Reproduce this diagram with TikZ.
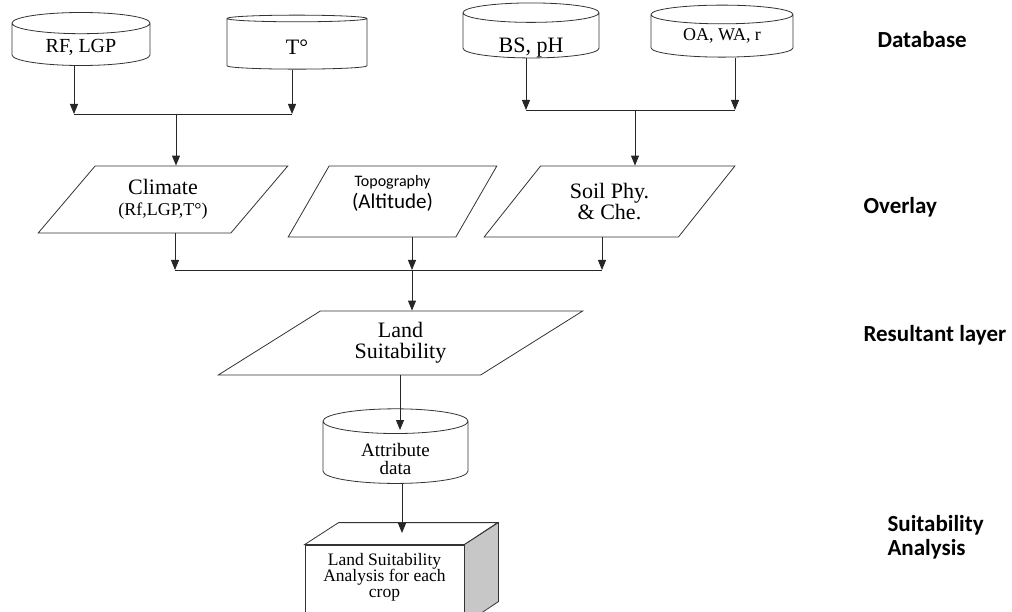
\documentclass[tikz,border=0pt]{standalone}
\usepackage{fontspec}
\setmainfont{Liberation Serif}
\newfontfamily\calib{Carlito}
\usetikzlibrary{shapes.geometric}
\usetikzlibrary{arrows.meta}
\newcommand{\shifttext}[2]{\raisebox{#1}[\height][\depth]{\begin{tabular}{@{}c@{}}#2\end{tabular}}}
\tikzset{
db/.style={ % database cylinders
cylinder, shape border rotate=90,
draw=black!80, line width=0.8pt, fill=white,
aspect=0.3, inner sep=0pt,
font=\fontsize{20}{20}\selectfont},
para/.style={ % overlay layers
trapezium, trapezium stretches=true,
draw=black!80, line width=0.8pt, inner sep=0pt,
align=center, font=\fontsize{22}{21}\selectfont},
cropbox/.style={ % front face of the box
rectangle, draw=black!80, line width=0.8pt, fill=white,
inner sep=0pt, font=\fontsize{17.5}{15.5}\selectfont},
boxface/.style={draw=black!80, line width=0.8pt},
levellabel/.style={anchor=west, align=left,
font=\calib\bfseries\fontsize{23}{24}\selectfont},
bus/.style={draw, line width=0.9pt, black!85},
every edge/.style={ % arrows between the layers
draw, -{Triangle[length=10pt,width=8pt]},
line width=0.9pt, black!85}}

\begin{document}
\begin{tikzpicture}[x=1pt,y=-1pt]
\useasboundingbox (0,0) rectangle (1012,612);
% database
\node[db, minimum width=138pt, minimum height=53pt] (rf) at (81,44.5) {\shifttext{-4pt}{RF, LGP}};
\node[db, minimum width=140pt, minimum height=54pt, font=\fontsize{22}{22}\selectfont] (temp) at (297,44) {\shifttext{-6pt}{T°}};
\node[db, minimum width=136pt, minimum height=55pt, font=\fontsize{22}{22}\selectfont] (bs) at (531,35.5) {\shifttext{-13pt}{BS, pH}};
\node[db, minimum width=142pt, minimum height=52pt, aspect=0.24, font=\fontsize{18}{18}\selectfont] (oa) at (722,36) {OA, WA, r};

% overlay
\node[para, trapezium left angle=47, trapezium right angle=133, minimum width=250pt, minimum height=67pt] (clim) at (163,199.5) {Climate\\{\fontsize{18}{18}\selectfont (Rf,LGP,T°)}};
\node[para, trapezium left angle=58.5, trapezium right angle=121.5, minimum width=209pt, minimum height=71pt] (topo) at (392.5,201.5) {\shifttext{8pt}{\calib\fontsize{16}{21}\selectfont Topography\\\calib\fontsize{21}{21}\selectfont (Altitude)}};
\node[para, trapezium left angle=48.4, trapezium right angle=131.6, minimum width=251pt, minimum height=71pt] (soil) at (609.5,201.5) {Soil Phy.\\\& Che.};

% resultant layer
\node[para, trapezium left angle=35.1, trapezium right angle=144.9, minimum width=365pt, minimum height=64pt] (land) at (400.5,343) {Land\\Suitability};
\node[db, minimum width=145pt, minimum height=69pt, aspect=0.36, font=\fontsize{19}{18}\selectfont] (attr) at (395.5,452.5) {\shifttext{-9pt}{Attribute\\data}};

% suitability analysis box
\node[cropbox, minimum width=159pt, minimum height=79pt] (crop) at (384.5,584.5) {\shifttext{7pt}{Land Suitability\\Analysis for each\\crop}};
\draw[boxface, fill=white] (crop.north west) -- ++(34,-22) -- ++(159,0) -- (crop.north east) -- cycle;
\draw[boxface, fill=black!22] (crop.north east) -- ++(34,-22) -- ++(0,79) -- (crop.south east) -- cycle;

% connectors
\coordinate (b1l) at (74,114);
\coordinate (b1r) at (292,114);
\coordinate (b1m) at (176,114);
\draw (rf.south -| b1l) edge (b1l);
\draw (temp.south -| b1r) edge (b1r);
\draw[bus] (b1l) -- (b1r);
\draw (b1m) edge (clim.north -| b1m);

\coordinate (b2l) at (526,110);
\coordinate (b2r) at (735,110);
\coordinate (b2m) at (635,110);
\draw (bs.south -| b2l) edge (b2l);
\draw (oa.south -| b2r) edge (b2r);
\draw[bus] (b2l) -- (b2r);
\draw (b2m) edge (soil.north -| b2m);

\coordinate (b3l) at (175,270);
\coordinate (b3m) at (412,270);
\coordinate (b3r) at (602,270);
\draw (clim.south -| b3l) edge (b3l);
\draw (topo.south -| b3m) edge (b3m);
\draw (soil.south -| b3r) edge (b3r);
\draw[bus] (b3l) -- (b3r);
\draw (b3m) edge (land.north -| b3m);

\coordinate (atip) at (400,430);
\coordinate (ctip) at (402,533);
\draw (land.south -| atip) edge (atip);
\draw (attr.south -| ctip) edge (ctip);

% level labels
\node[levellabel] (lbdb) at (874,40) {Database};
\node[levellabel] (lbov) at (860,207) {Overlay};
\node[levellabel] (lbres) at (860,335) {Resultant layer};
\node[levellabel] (lbsuit) at (884,537) {Suitability\\Analysis};
\end{tikzpicture}
\end{document}
